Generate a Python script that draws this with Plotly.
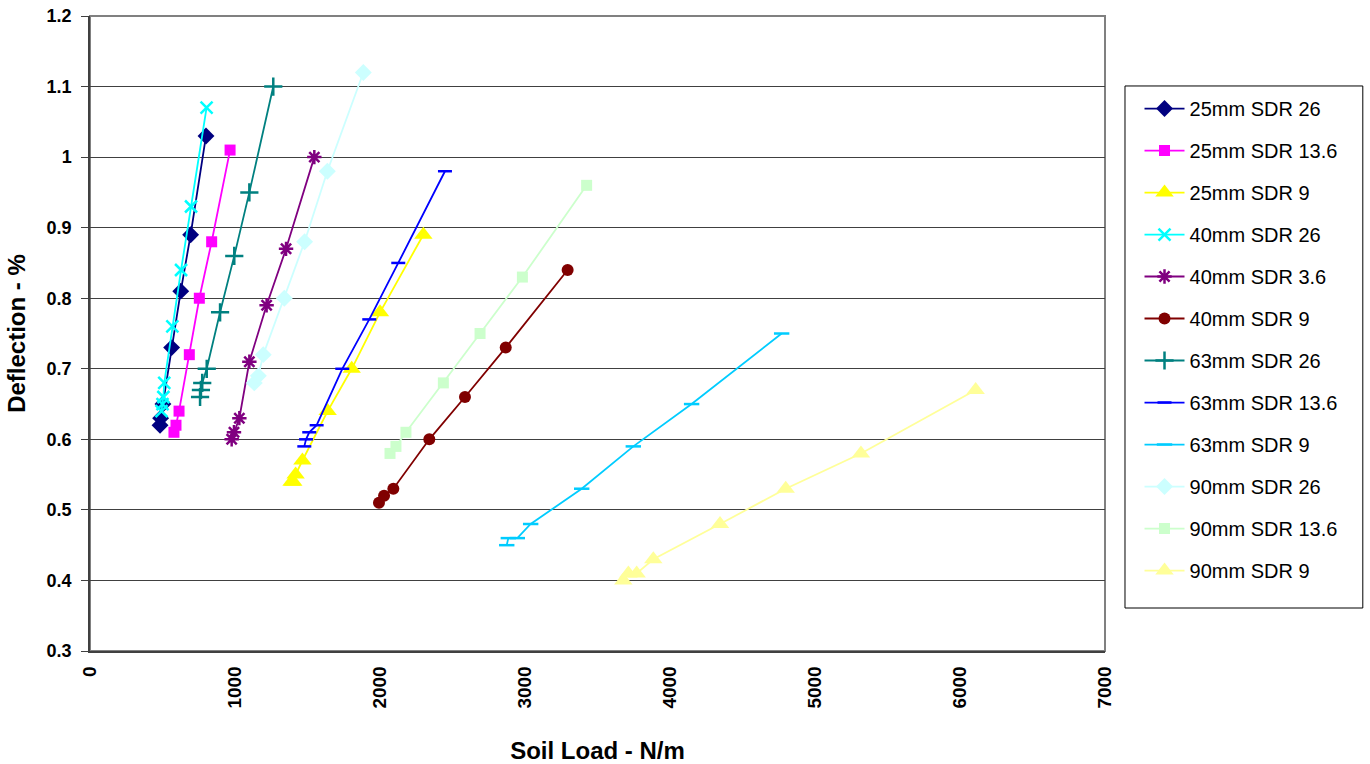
import plotly.graph_objects as go

# Soil load (N/m) and deflection (%) readings for each pipe size / SDR class
load_25_sdr26 = [483, 487, 503, 563, 626, 694, 800]
defl_25_sdr26 = [0.62, 0.63, 0.65, 0.73, 0.81, 0.89, 1.03]

load_25_sdr136 = [579, 593, 614, 685, 754, 839, 966]
defl_25_sdr136 = [0.61, 0.62, 0.64, 0.72, 0.80, 0.88, 1.01]

load_25_sdr9 = [1390, 1402, 1418, 1465, 1639, 1805, 2000, 2299]
defl_25_sdr9 = [0.54, 0.54, 0.55, 0.57, 0.64, 0.70, 0.78, 0.89]

load_40_sdr26 = [493, 500, 506, 512, 568, 628, 697, 804]
defl_40_sdr26 = [0.64, 0.65, 0.66, 0.68, 0.76, 0.84, 0.93, 1.07]

load_40_sdr36 = [977, 993, 1030, 1099, 1218, 1352, 1547]
defl_40_sdr36 = [0.60, 0.61, 0.63, 0.71, 0.79, 0.87, 1.00]

load_40_sdr9 = [1993, 2028, 2092, 2340, 2586, 2867, 3294]
defl_40_sdr9 = [0.51, 0.52, 0.53, 0.60, 0.66, 0.73, 0.84]

load_63_sdr26 = [759, 765, 774, 805, 897, 995, 1099, 1264]
defl_63_sdr26 = [0.66, 0.67, 0.68, 0.70, 0.78, 0.86, 0.95, 1.10]

load_63_sdr136 = [1478, 1490, 1512, 1563, 1740, 1926, 2126, 2448]
defl_63_sdr136 = [0.59, 0.60, 0.61, 0.62, 0.70, 0.77, 0.85, 0.98]

load_63_sdr9 = [2874, 2885, 2947, 3039, 3391, 3747, 4149, 4770]
defl_63_sdr9 = [0.45, 0.46, 0.46, 0.48, 0.53, 0.59, 0.65, 0.75]

load_90_sdr26 = [1133, 1161, 1195, 1340, 1480, 1637, 1885]
defl_90_sdr26 = [0.68, 0.69, 0.72, 0.80, 0.88, 0.98, 1.12]

load_90_sdr136 = [2069, 2110, 2179, 2437, 2690, 2982, 3425]
defl_90_sdr136 = [0.58, 0.59, 0.61, 0.68, 0.75, 0.83, 0.96]

load_90_sdr9 = [3678, 3713, 3770, 3885, 4345, 4798, 5317, 6108]
defl_90_sdr9 = [0.40, 0.41, 0.41, 0.43, 0.48, 0.53, 0.58, 0.67]

x_ticks = [0, 1000, 2000, 3000, 4000, 5000, 6000, 7000]
y_ticks = [0.3, 0.4, 0.5, 0.6, 0.7, 0.8, 0.9, 1.0, 1.1, 1.2]
y_tick_text = ["0.3", "0.4", "0.5", "0.6", "0.7", "0.8", "0.9", "1", "1.1", "1.2"]

# name, x, y, colour, marker symbol, marker size
series = [
    ("25mm SDR 26", load_25_sdr26, defl_25_sdr26, "#000080", "diamond", 13),
    ("25mm SDR 13.6", load_25_sdr136, defl_25_sdr136, "#FF00FF", "square", 11),
    ("25mm SDR 9", load_25_sdr9, defl_25_sdr9, "#FFFF00", "triangle-up", 16),
    ("40mm SDR 26", load_40_sdr26, defl_40_sdr26, "#00FFFF", "x-thin-open", 12),
    ("40mm SDR 3.6", load_40_sdr36, defl_40_sdr36, "#800080", "asterisk-open", 12),
    ("40mm SDR 9", load_40_sdr9, defl_40_sdr9, "#800000", "circle", 12),
    ("63mm SDR 26", load_63_sdr26, defl_63_sdr26, "#008080", "cross-thin-open", 13),
    ("63mm SDR 13.6", load_63_sdr136, defl_63_sdr136, "#0000FF", "line-ew-open", 10),
    ("63mm SDR 9", load_63_sdr9, defl_63_sdr9, "#00CCFF", "line-ew-open", 11),
    ("90mm SDR 26", load_90_sdr26, defl_90_sdr26, "#CCFFFF", "diamond", 13),
    ("90mm SDR 13.6", load_90_sdr136, defl_90_sdr136, "#CCFFCC", "square", 11),
    ("90mm SDR 9", load_90_sdr9, defl_90_sdr9, "#FFFF99", "triangle-up", 16),
]

fig = go.Figure()
for i, (name, xs, ys, color, symbol, size) in enumerate(series):
    open_sym = symbol.endswith("-open")
    fig.add_trace(go.Scatter(
        x=xs, y=ys, name=name, mode="lines+markers",
        legendgroup=f"g{i}",
        line=dict(color=color, width=1.8),
        marker=dict(
            symbol=symbol, size=size, color=color,
            line=dict(color=color, width=2.5 if open_sym else 0),
        ),
    ))

FONT = "Liberation Sans, Arial, sans-serif"

fig.update_layout(
    width=1370, height=764,
    margin=dict(l=90, r=265, t=16, b=113, autoexpand=False),
    paper_bgcolor="white", plot_bgcolor="white",
    font=dict(family=FONT, color="black"),
    showlegend=True,
    legend=dict(
        x=1.034, xanchor="left", y=0.885, yanchor="top",
        bgcolor="rgba(0,0,0,0)", borderwidth=0,
        font=dict(family=FONT, size=20, color="black"),
        tracegroupgap=13, itemwidth=40,
    ),
    xaxis=dict(
        range=[0, 7000], tickvals=x_ticks, ticktext=[str(v) for v in x_ticks],
        tickangle=-90, showgrid=False, zeroline=False, automargin=False,
        showline=True, linecolor="#404040", linewidth=1.5,
        ticks="outside", ticklen=6, tickcolor="rgba(0,0,0,0)",
        tickfont=dict(family=FONT, size=19, color="black", weight="bold"),
        title=dict(text="<b>Soil Load - N/m</b>", font=dict(family=FONT, size=24, color="black"),
                   standoff=36),
    ),
    yaxis=dict(
        range=[0.3, 1.2], tickvals=y_ticks, ticktext=y_tick_text,
        showgrid=True, gridcolor="#404040", gridwidth=1, zeroline=False, automargin=False,
        showline=True, linecolor="#404040", linewidth=1.5,
        ticks="outside", ticklen=7, tickcolor="#404040", ticklabelstandoff=6,
        tickfont=dict(family=FONT, size=18, color="black", weight="bold"),
        title=dict(text="<b>Deflection - %</b>", font=dict(family=FONT, size=24, color="black"),
                   standoff=14),
    ),
    shapes=[
        # plot area frame
        dict(type="rect", xref="paper", yref="paper", x0=0, y0=0, x1=1, y1=1,
             line=dict(color="#808080", width=2), layer="below"),
        # legend frame
        dict(type="rect", xref="paper", yref="paper", x0=1.0197, y0=0.0677, x1=1.254, y1=0.8898,
             line=dict(color="black", width=1)),
    ],
)

fig.write_html("out.html")
